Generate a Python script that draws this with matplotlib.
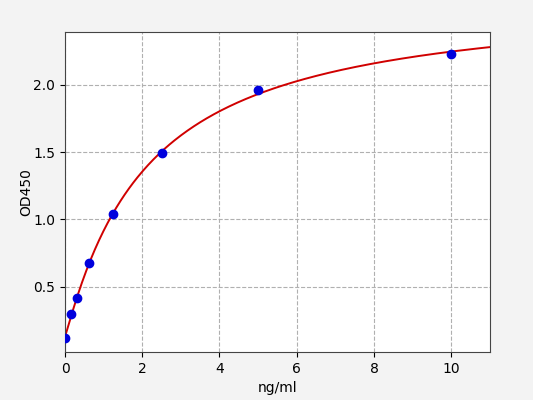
import numpy as np
import matplotlib
matplotlib.use("Agg")
import matplotlib.pyplot as plt

conc = [0, 0.156, 0.3125, 0.625, 1.25, 2.5, 5, 10]
od450 = [0.12, 0.30, 0.42, 0.68, 1.04, 1.49, 1.96, 2.23]
xticks = [0, 2, 4, 6, 8, 10]
yticks = [0.5, 1.0, 1.5, 2.0]


def fourpl(x, p):
    a, b, c, d = p
    return d + (a - d) / (1.0 + (np.maximum(x, 0) / c) ** b)


def fit_4pl(x, y, p0):
    p = np.array(p0, float)
    lam = 1e-3
    for _ in range(2000):
        r = y - fourpl(x, p)
        J = np.zeros((len(x), 4))
        for i in range(4):
            dp = np.zeros(4)
            dp[i] = 1e-6 * max(abs(p[i]), 1e-3)
            J[:, i] = (fourpl(x, p + dp) - fourpl(x, p - dp)) / (2 * dp[i])
        A = J.T @ J
        g = J.T @ r
        step = np.linalg.solve(A + lam * np.diag(np.diag(A)), g)
        pn = p + step
        if pn[2] > 0 and np.sum((y - fourpl(x, pn)) ** 2) < np.sum(r ** 2):
            p = pn
            lam *= 0.5
        else:
            lam *= 4
    return p


x = np.array(conc)
y = np.array(od450)
params = fit_4pl(x, y, [0.12, 1.0, 3.0, 3.0])

fig = plt.figure(figsize=(5.33, 4.0), dpi=100, facecolor="#f3f3f3")
ax = fig.add_axes([0.122, 0.12, 0.797, 0.80])
xs = np.linspace(0, 11, 400)
ax.plot(xs, fourpl(xs, params), color="#d00000", lw=1.4, zorder=2)
ax.plot(conc, od450, "o", color="#0000dd", ms=6, zorder=3)
ax.set_xlim(0, 11)
ax.set_ylim(0.017, 2.39)
ax.set_xticks(xticks)
ax.set_yticks(yticks)
ax.grid(True, ls="--", color="#b0b0b0", lw=0.8)
ax.set_xlabel("ng/ml")
ax.set_ylabel("OD450", labelpad=0)
for s in ax.spines.values():
    s.set_color("#444444")
fig.savefig("out.png", dpi=100, facecolor=fig.get_facecolor())
